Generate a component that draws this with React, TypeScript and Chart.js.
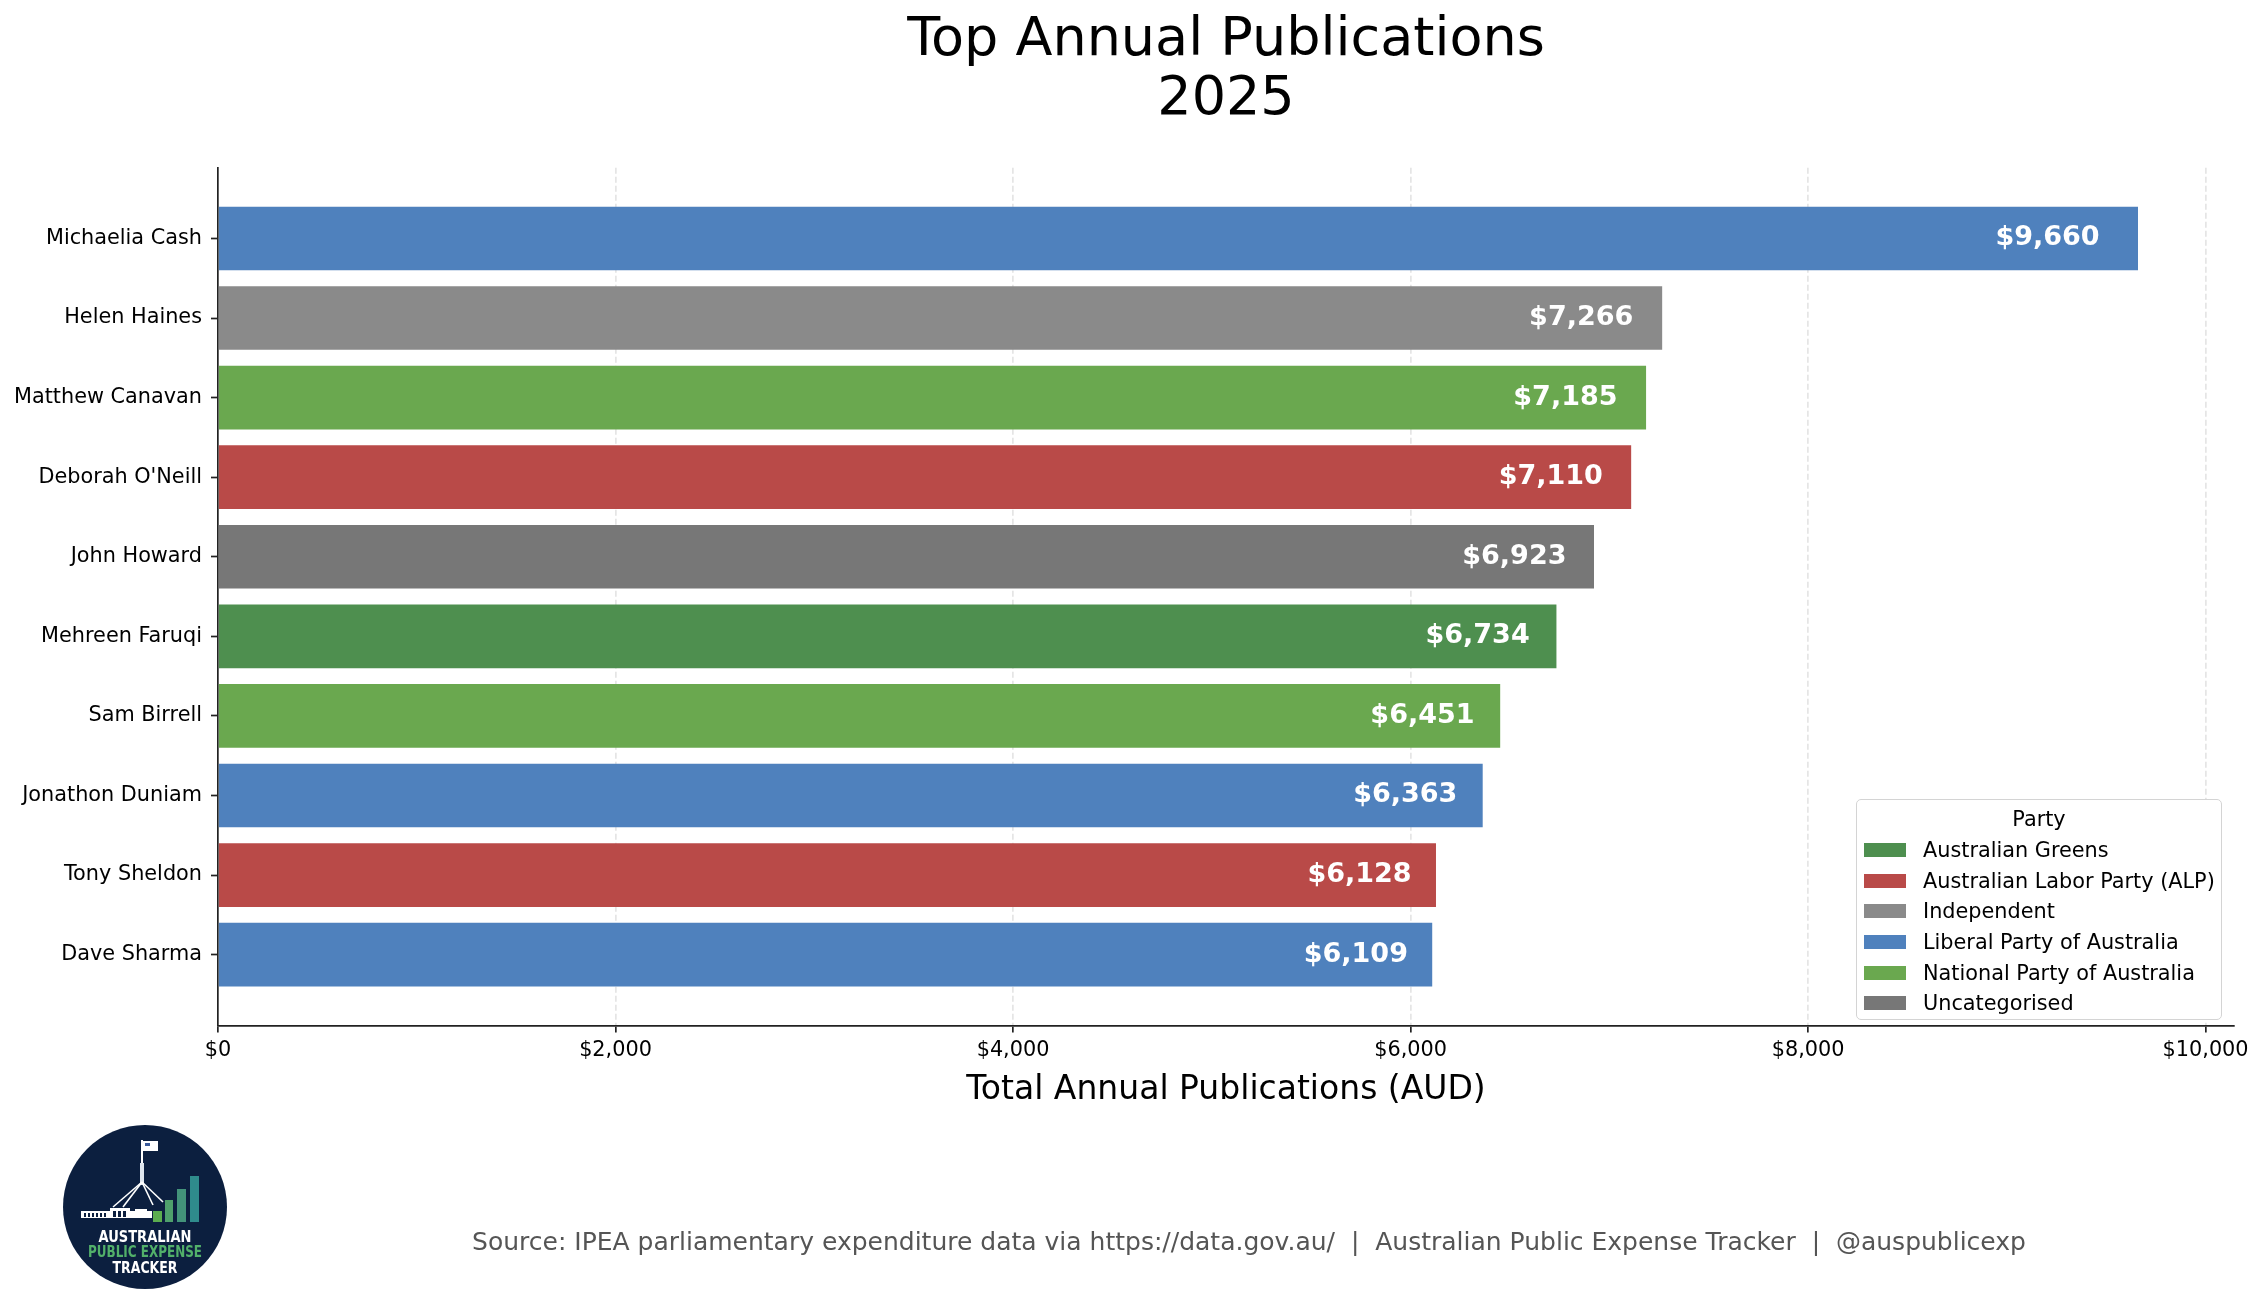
import { useEffect, useRef } from "react"
import { Chart, registerables } from "chart.js"
import type { Plugin } from "chart.js"

Chart.register(...registerables)

// Data
const members = [
  "Michaelia Cash",
  "Helen Haines",
  "Matthew Canavan",
  "Deborah O'Neill",
  "John Howard",
  "Mehreen Faruqi",
  "Sam Birrell",
  "Jonathon Duniam",
  "Tony Sheldon",
  "Dave Sharma",
]
const totals = [9660, 7266, 7185, 7110, 6923, 6734, 6451, 6363, 6128, 6109]
const memberParty = [
  "Liberal Party of Australia",
  "Independent",
  "National Party of Australia",
  "Australian Labor Party (ALP)",
  "Uncategorised",
  "Australian Greens",
  "National Party of Australia",
  "Liberal Party of Australia",
  "Australian Labor Party (ALP)",
  "Liberal Party of Australia",
]
const parties = [
  "Australian Greens",
  "Australian Labor Party (ALP)",
  "Independent",
  "Liberal Party of Australia",
  "National Party of Australia",
  "Uncategorised",
]
const partyColors = ["#4e8f4f", "#b94a48", "#8a8a8a", "#4f81bd", "#6aa84f", "#777777"]
const xTickValues = [0, 2000, 4000, 6000, 8000, 10000]

const titleLines = ["Top Annual Publications", "2025"]
const xAxisTitle = "Total Annual Publications (AUD)"
const legendTitle = "Party"
const sourceNote =
  "Source: IPEA parliamentary expenditure data via https://data.gov.au/  |  Australian Public Expense Tracker  |  @auspublicexp"

const FONT = "'DejaVu Sans', sans-serif"

function money(v: number) {
  return "$" + v.toLocaleString("en-US")
}

// white bold value labels inside the bar ends
const barLabels: Plugin<"bar"> = {
  id: "barLabels",
  afterDraw(chart) {
    const { ctx } = chart
    const meta = chart.getDatasetMeta(0)
    const xScale = chart.scales.x
    ctx.save()
    ctx.font = `bold 27px ${FONT}`
    ctx.fillStyle = "#ffffff"
    ctx.textAlign = "right"
    ctx.textBaseline = "middle"
    meta.data.forEach((bar, i) => {
      ctx.fillText(money(totals[i]), xScale.getPixelForValue(totals[i] * 0.98), bar.y)
    })
    ctx.restore()
  },
}

function Logo() {
  return (
    <svg width={164} height={164} viewBox="0 0 164 164" style={{ position: "absolute", left: 63, top: 1125 }}>
      <circle cx={82} cy={82} r={82} fill="#0c1f3f" />
      {/* flag and pole */}
      <rect x={80} y={16} width={15} height={10} fill="#ffffff" />
      <rect x={82} y={18} width={5} height={3} fill="#3a5a9a" />
      <line x1={79} y1={15} x2={79} y2={60} stroke="#ffffff" strokeWidth={2} />
      <rect x={77} y={38} width={4} height={22} fill="#dfe6ee" />
      <line x1={79} y1={57} x2={50} y2={82} stroke="#ffffff" strokeWidth={1.6} />
      <line x1={79} y1={57} x2={60} y2={82} stroke="#ffffff" strokeWidth={1.6} />
      <line x1={79} y1={57} x2={90} y2={80} stroke="#ffffff" strokeWidth={1.6} />
      <line x1={79} y1={57} x2={100} y2={77} stroke="#ffffff" strokeWidth={1.6} />
      {/* building */}
      <rect x={18} y={86} width={71} height={7} fill="#ffffff" />
      <rect x={47} y={83} width={20} height={10} fill="#ffffff" />
      <rect x={72} y={84} width={12} height={9} fill="#ffffff" />
      {[21, 25, 29, 33, 37, 41].map((x) => (
        <rect key={x} x={x} y={88} width={2} height={4} fill="#0c1f3f" />
      ))}
      {[50, 55, 60].map((x) => (
        <rect key={x} x={x} y={86} width={3} height={6} fill="#0c1f3f" />
      ))}
      {/* growth bars */}
      <rect x={90} y={86} width={9} height={11} fill="#5cad4f" />
      <rect x={102} y={75} width={8} height={22} fill="#4fa06c" />
      <rect x={114} y={64} width={9} height={33} fill="#43937a" />
      <rect x={127} y={51} width={9} height={46} fill="#2f8b8c" />
      <text x={82} y={117} textAnchor="middle" fill="#ffffff" fontFamily={FONT} fontWeight="bold" fontSize={15} textLength={93} lengthAdjust="spacingAndGlyphs">
        AUSTRALIAN
      </text>
      <text x={82} y={132} textAnchor="middle" fill="#52b06a" fontFamily={FONT} fontWeight="bold" fontSize={15} textLength={114} lengthAdjust="spacingAndGlyphs">
        PUBLIC EXPENSE
      </text>
      <text x={82} y={148} textAnchor="middle" fill="#ffffff" fontFamily={FONT} fontWeight="bold" fontSize={15} textLength={65} lengthAdjust="spacingAndGlyphs">
        TRACKER
      </text>
    </svg>
  )
}

export default function App() {
  const canvasRef = useRef<HTMLCanvasElement>(null)
  const chartRef = useRef<Chart | null>(null)

  useEffect(() => {
    document.body.style.margin = "0"
    document.body.style.overflow = "hidden"
    if (!canvasRef.current) return

    if (chartRef.current) {
      chartRef.current.destroy()
    }

    chartRef.current = new Chart(canvasRef.current, {
      type: "bar",
      data: {
        datasets: [
          {
            data: totals.map((v, i) => ({ x: v, y: i })),
            backgroundColor: memberParty.map((p) => partyColors[parties.indexOf(p)]),
            borderWidth: 0,
            barPercentage: 0.8,
            categoryPercentage: 1,
          },
        ],
      },
      options: {
        animation: false,
        responsive: false,
        indexAxis: "y",
        layout: { padding: { left: 0, right: 29, top: 0, bottom: 200 } },
        plugins: {
          legend: { display: false },
          tooltip: { enabled: false },
          title: {
            display: true,
            text: titleLines,
            fullSize: false,
            color: "#000000",
            font: { family: FONT, size: 54, weight: "normal", lineHeight: 1.08 },
            padding: { top: 12, bottom: 39 },
          },
        },
        scales: {
          x: {
            type: "linear",
            min: 0,
            max: 10143,
            z: 1,
            afterBuildTicks: (axis) => {
              axis.ticks = xTickValues.map((value) => ({ value }))
            },
            afterFit: (axis) => {
              axis.paddingLeft = 0
              axis.paddingRight = 0
            },
            ticks: {
              callback: (v) => money(Number(v)),
              color: "#000000",
              font: { family: FONT, size: 20.8 },
              padding: 6,
              maxRotation: 0,
              autoSkip: false,
            },
            grid: {
              color: (c) => (c.tick && c.tick.value === 0 ? "rgba(0,0,0,0)" : "rgba(170,170,170,0.3)"),
              lineWidth: 1.7,
              tickColor: "#222222",
              tickLength: 7,
              tickWidth: 1.7,
            },
            border: { display: true, color: "#222222", width: 1.7, dash: [6, 3] },
            title: {
              display: true,
              text: xAxisTitle,
              color: "#000000",
              font: { family: FONT, size: 33 },
              padding: { top: 1, bottom: 0 },
            },
          },
          y: {
            type: "linear",
            reverse: true,
            offset: false,
            min: -0.89,
            max: 9.89,
            z: 1,
            afterBuildTicks: (axis) => {
              axis.ticks = members.map((_, i) => ({ value: i }))
            },
            afterFit: (axis) => {
              axis.width = 218
            },
            ticks: {
              callback: (v) => members[Number(v)],
              color: "#000000",
              font: { family: FONT, size: 20.8 },
              padding: 9,
              autoSkip: false,
            },
            grid: {
              offset: false,
              drawOnChartArea: false,
              tickColor: "#222222",
              tickLength: 7,
              tickWidth: 1.7,
            },
            border: { display: true, color: "#222222", width: 1.7 },
          },
        },
      },
      plugins: [barLabels],
    })

    return () => {
      if (chartRef.current) {
        chartRef.current.destroy()
        chartRef.current = null
      }
    }
  }, [])

  return (
    <div style={{ position: "relative", width: 2263, height: 1310, background: "#ffffff", overflow: "hidden", fontFamily: FONT }}>
      <canvas ref={canvasRef} width={2263} height={1310} style={{ display: "block" }} />

      {/* legend */}
      <div
        style={{
          position: "absolute",
          left: 1856,
          top: 799,
          width: 364,
          height: 219,
          border: "1.5px solid #d4d4d4",
          borderRadius: 5,
          background: "#ffffff",
          boxSizing: "content-box",
        }}
      >
        <div style={{ position: "absolute", left: 0, right: 0, top: 4, height: 30, lineHeight: "30px", textAlign: "center", fontSize: 20.8, color: "#000" }}>
          {legendTitle}
        </div>
        {parties.map((p, i) => (
          <div key={p} style={{ position: "absolute", left: 7, top: 35 + i * 30.6, height: 30.6, display: "flex", alignItems: "center" }}>
            <div style={{ width: 42, height: 14, background: partyColors[i] }} />
            <div style={{ marginLeft: 17, fontSize: 20.8, color: "#000", whiteSpace: "nowrap", lineHeight: "30px" }}>{p}</div>
          </div>
        ))}
      </div>

      <Logo />

      <div
        style={{
          position: "absolute",
          left: 1249,
          top: 1227,
          transform: "translateX(-50%)",
          fontSize: 25,
          lineHeight: "30px",
          color: "#555555",
          whiteSpace: "pre",
        }}
      >
        {sourceNote}
      </div>
    </div>
  )
}
